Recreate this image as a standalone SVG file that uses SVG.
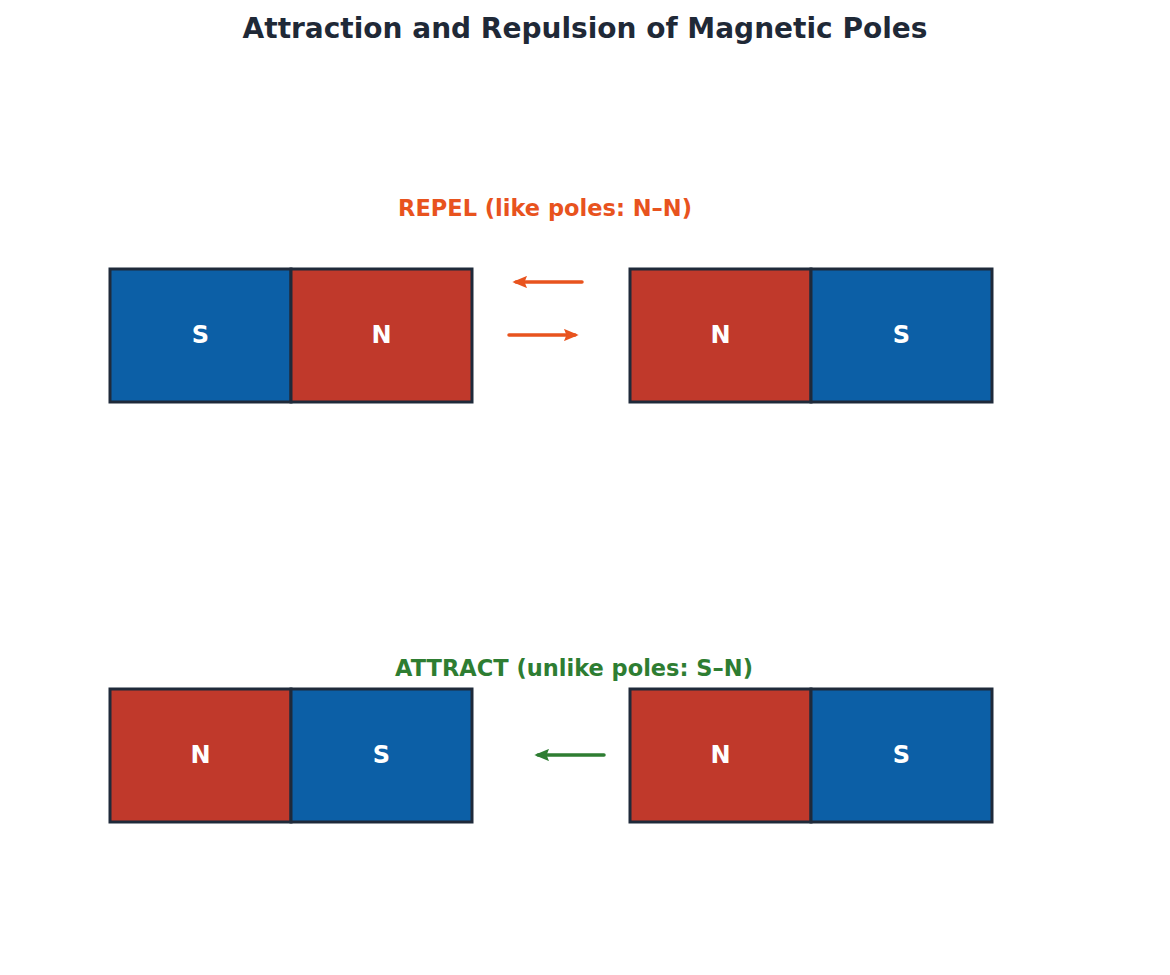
<svg xmlns="http://www.w3.org/2000/svg" width="1170" height="975" viewBox="0 0 1170 975">
<style>
text{font-family:"DejaVu Sans","Liberation Sans",sans-serif;font-weight:bold;text-anchor:middle}
.n{fill:#c0392b;stroke:#1f2a3a;stroke-width:3}
.s{fill:#0c5fa6;stroke:#1f2a3a;stroke-width:3}
.p{fill:#ffffff;font-size:24px}
.title{fill:#1f2937;font-size:28px}
.rep{fill:#e8531e;font-size:22.5px}
.att{fill:#2e7d32;font-size:22.5px}
.ar{stroke:#e8531e;stroke-width:3.5;fill:none;stroke-linecap:round}
.ag{stroke:#2e7d32;stroke-width:3.5;fill:none;stroke-linecap:round}
</style>
<defs>
<marker id="mo" viewBox="0 0 12 10" refX="9" refY="5" markerWidth="4.2" markerHeight="3.6" orient="auto"><path d="M0,0 L12,5 L0,10 L2,5 Z" fill="#e8531e"/></marker>
<marker id="mg" viewBox="0 0 12 10" refX="9" refY="5" markerWidth="4.2" markerHeight="3.6" orient="auto"><path d="M0,0 L12,5 L0,10 L2,5 Z" fill="#2e7d32"/></marker>
</defs>
<rect width="1170" height="975" fill="#ffffff"/>
<text class="title" x="585" y="38">Attraction and Repulsion of Magnetic Poles</text>
<text class="rep" x="545" y="216">REPEL (like poles: N–N)</text>
<text class="att" x="574" y="676">ATTRACT (unlike poles: S–N)</text>
<g id="magnet-top-left">
<rect class="s" x="110" y="269" width="181" height="133"/>
<rect class="n" x="291" y="269" width="181" height="133"/>
<text class="p" x="200.5" y="342.5">S</text>
<text class="p" x="381.5" y="342.5">N</text>
</g>
<g id="magnet-top-right">
<rect class="n" x="630" y="269" width="181" height="133"/>
<rect class="s" x="811" y="269" width="181" height="133"/>
<text class="p" x="720.5" y="342.5">N</text>
<text class="p" x="901.5" y="342.5">S</text>
</g>
<g id="magnet-bottom-left">
<rect class="n" x="110" y="689" width="181" height="133"/>
<rect class="s" x="291" y="689" width="181" height="133"/>
<text class="p" x="200.5" y="762.5">N</text>
<text class="p" x="381.5" y="762.5">S</text>
</g>
<g id="connectors">
<line class="ar" x1="582" y1="282" x2="516" y2="282" marker-end="url(#mo)"/>
<line class="ar" x1="509" y1="335" x2="575" y2="335" marker-end="url(#mo)"/>
<line class="ag" x1="604" y1="755" x2="538" y2="755" marker-end="url(#mg)"/>
</g>
<g id="magnet-bottom-right">
<rect class="n" x="630" y="689" width="181" height="133"/>
<rect class="s" x="811" y="689" width="181" height="133"/>
<text class="p" x="720.5" y="762.5">N</text>
<text class="p" x="901.5" y="762.5">S</text>
</g>
</svg>
